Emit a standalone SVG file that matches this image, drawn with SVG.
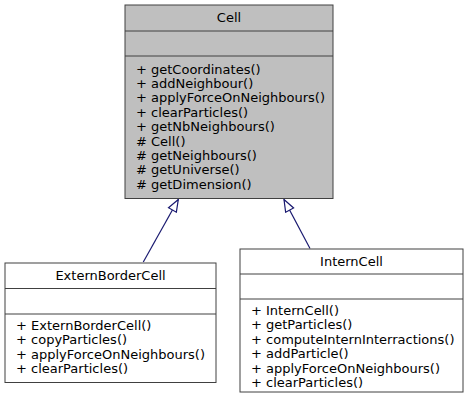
<svg xmlns="http://www.w3.org/2000/svg" width="469" height="404" viewBox="0 0 469 404">
<style>
  .box { fill: #ffffff; stroke: #404040; stroke-width: 1; }
  .cur { fill: #bfbfbf; }
  .div { stroke: #404040; stroke-width: 1; }
  text { font-family: "DejaVu Sans", sans-serif; font-size: 13px; fill: #000000; }
  .title { text-anchor: middle; }
  .edge { stroke: #191970; stroke-width: 1.2; fill: none; }
</style>
<defs>
  <marker id="inh" markerUnits="userSpaceOnUse" markerWidth="16" markerHeight="12" refX="13" refY="5" orient="auto" viewBox="0 0 16 10">
    <path d="M1,0.5 L13,5 L1,9.5 Z" fill="#ffffff" stroke="#191970" stroke-width="1.2"/>
  </marker>
</defs>
<rect width="469" height="404" fill="#ffffff"/>
<g id="connectors">
  <path class="edge" d="M143.3,262 L178.3,199.5" marker-end="url(#inh)"/>
  <path class="edge" d="M310,248.5 L284,199.5" marker-end="url(#inh)"/>
</g>
<g id="Cell">
  <rect class="box cur" x="125" y="5" width="208" height="193.5"/>
  <line class="div" x1="125" y1="31" x2="333" y2="31"/>
  <line class="div" x1="125" y1="56" x2="333" y2="56"/>
  <text class="title" x="229" y="21.5">Cell</text>
  <text x="136" y="73.5">+ getCoordinates()</text>
  <text x="136" y="87.9">+ addNeighbour()</text>
  <text x="136" y="102.3">+ applyForceOnNeighbours()</text>
  <text x="136" y="116.7">+ clearParticles()</text>
  <text x="136" y="131.1">+ getNbNeighbours()</text>
  <text x="136" y="145.5"># Cell()</text>
  <text x="136" y="159.9"># getNeighbours()</text>
  <text x="136" y="174.3"># getUniverse()</text>
  <text x="136" y="188.7"># getDimension()</text>
</g>
<g id="ExternBorderCell">
  <rect class="box" x="5" y="263" width="211" height="119.5"/>
  <line class="div" x1="5" y1="288.5" x2="216" y2="288.5"/>
  <line class="div" x1="5" y1="314" x2="216" y2="314"/>
  <text class="title" x="110.5" y="279.5">ExternBorderCell</text>
  <text x="16" y="330">+ ExternBorderCell()</text>
  <text x="16" y="344.4">+ copyParticles()</text>
  <text x="16" y="358.8">+ applyForceOnNeighbours()</text>
  <text x="16" y="373.2">+ clearParticles()</text>
</g>
<g id="InternCell">
  <rect class="box" x="240" y="249" width="223" height="143"/>
  <line class="div" x1="240" y1="274" x2="463" y2="274"/>
  <line class="div" x1="240" y1="299" x2="463" y2="299"/>
  <text class="title" x="351.5" y="265.5">InternCell</text>
  <text x="251" y="315">+ InternCell()</text>
  <text x="251" y="329.4">+ getParticles()</text>
  <text x="251" y="343.8">+ computeInternInterractions()</text>
  <text x="251" y="358.2">+ addParticle()</text>
  <text x="251" y="372.6">+ applyForceOnNeighbours()</text>
  <text x="251" y="387">+ clearParticles()</text>
</g>
</svg>
